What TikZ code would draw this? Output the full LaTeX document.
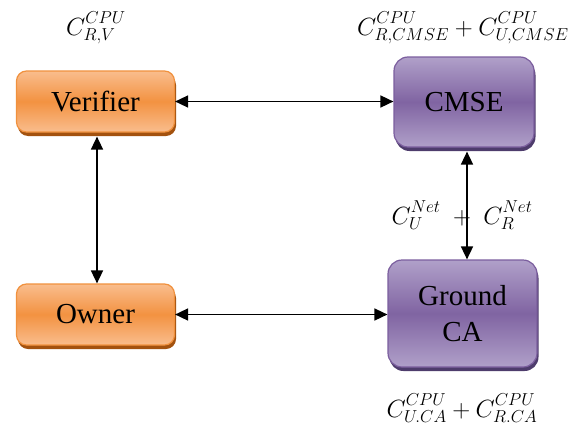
\documentclass[tikz,border=0pt]{standalone}
\usepackage{fontspec}
\setmainfont{Liberation Serif}
\newfontfamily\timesfont{Liberation Serif}
\usetikzlibrary{shadows,arrows.meta}
\definecolor{orgtop}{HTML}{F9BD8D}
\definecolor{orgmid}{HTML}{F39241}
\definecolor{orgedge}{HTML}{F0913E}
\definecolor{orgshadow}{HTML}{A3520F}
\definecolor{purtop}{HTML}{B0A0C9}
\definecolor{purmid}{HTML}{8064A2}
\definecolor{puredge}{HTML}{7B5E9E}
\definecolor{purshadow}{HTML}{4E3C6C}
\newcommand{\costterm}[2]{C^{#2\vphantom{g}}_{#1\vphantom{X}}}
\tikzset{
  orangebox/.style={rectangle, rounded corners=10pt, draw=orgedge, line width=1.2pt,
    top color=orgtop, bottom color=orgtop, middle color=orgmid,
    drop shadow={shadow xshift=1.5pt, shadow yshift=-4pt, fill=orgshadow, opacity=1},
    font=\timesfont\fontsize{29}{31}\selectfont, align=center, inner sep=0pt},
  purplebox/.style={rectangle, rounded corners=14pt, draw=puredge, line width=1.2pt,
    top color=purtop, bottom color=purtop, middle color=purmid,
    drop shadow={shadow xshift=1.5pt, shadow yshift=-4pt, fill=purshadow, opacity=1},
    font=\timesfont\fontsize{29}{31}\selectfont, align=center, inner sep=0pt},
  costlabel/.style={font=\fontsize{27}{30}\selectfont, inner sep=0pt},
  link/.style={line width=1.6pt, {Triangle[length=13pt,width=12pt]}-{Triangle[length=13pt,width=12pt]}}
}
\begin{document}
\begin{tikzpicture}[x=1pt,y=-1pt]
\useasboundingbox (0,0) rectangle (585,428);
\node[orangebox, minimum width=158pt, minimum height=61pt] (ver) at (95.5,101.5) {Verifier};
\node[orangebox, minimum width=158pt, minimum height=61pt] (own) at (95.5,314.5) {Owner};
\node[purplebox, minimum width=140pt, minimum height=90pt] (cmse) at (464,102) {CMSE};
\node[purplebox, minimum width=149pt, minimum height=107pt, font=\timesfont\fontsize{29}{36}\selectfont] (gca) at (462.5,313.5) {Ground\\CA};
\node[costlabel] (lv) at (96,28) {$\costterm{R,V}{CPU}$};
\node[costlabel] (lc) at (463,28) {$\costterm{R,CMSE}{CPU}+\costterm{U,CMSE}{CPU}$};
\node[costlabel] (ln) at (462,215) {$\costterm{U}{Net}\;+\;\costterm{R}{Net}$};
\node[costlabel] (lg) at (462,408) {$\costterm{U.CA}{CPU}+\costterm{R.CA}{CPU}$};
\draw[link] (ver.east) -- (cmse.west |- ver.east);
\draw[link] ([xshift=1.5pt,yshift=-4pt]ver.south) -- ([xshift=1.5pt]own.north);
\draw[link] (own.east) -- (gca.west |- own.east);
\draw[link] ([xshift=3pt,yshift=-4pt]cmse.south) -- ([xshift=4.5pt]gca.north);
\end{tikzpicture}
\end{document}
